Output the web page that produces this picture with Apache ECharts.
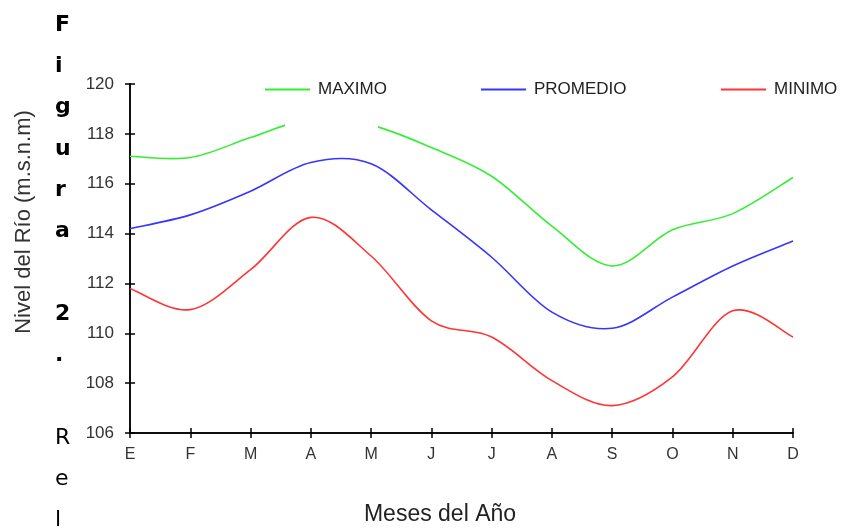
<!DOCTYPE html>
<html>
<head>
<meta charset="utf-8">
<script src="https://cdn.jsdelivr.net/npm/echarts@6/dist/echarts.min.js"></script>
<style>
html,body{margin:0;padding:0;background:#fff;}
#chart{width:845px;height:529px;}
</style>
</head>
<body>
<div id="chart"></div>
<script>
const months = ['E','F','M','A','M','J','J','A','S','O','N','D'];
const maximo = [117.1, 117.05, 117.85, 118.6, 118.35, 117.45, 116.3, 114.3, 112.7, 114.15, 114.8, 116.25];
const promedio = [114.2, 114.75, 115.7, 116.85, 116.8, 114.95, 113.05, 110.85, 110.2, 111.45, 112.7, 113.7];
const minimo = [111.8, 110.95, 112.55, 114.65, 113.1, 110.5, 109.85, 108.1, 107.1, 108.25, 110.9, 109.85];
const yTicks = {min: 106, max: 120, interval: 2};
const seriesNames = ['MAXIMO', 'PROMEDIO', 'MINIMO'];
const colors = ['#33ee33', '#3535ff', '#ff3535'];
const captionBold = ['F','i','g','u','r','a','','2','.'];
const captionNormal = ['','R','e','l'];

const chart = echarts.init(document.getElementById('chart'), null, {renderer: 'canvas'});
const FONT = '"Liberation Sans", Arial, sans-serif';
const CAP_FONT = '"DejaVu Sans", "Noto Sans", sans-serif';

const graphics = [];
// white box masking part of the top line (as in source)
graphics.push({type: 'rect', shape: {x: 285, y: 98, width: 93, height: 32}, style: {fill: '#fff'}, z: 50});
const capAll = captionBold.concat(captionNormal);
capAll.forEach((ch, i) => {
  if (!ch) return;
  const bold = i < captionBold.length;
  graphics.push({type: 'text', left: 55, top: 14 + i * 41.3, z: 60,
    style: {text: ch, font: (bold ? 'bold ' : '') + '22px ' + CAP_FONT, fill: '#000'}});
});
graphics.push({type: 'text', x: 24, y: 222, rotation: Math.PI / 2, z: 60,
  style: {text: 'Nivel del Río (m.s.n.m)', font: '22px ' + FONT, fill: '#333', textAlign: 'center', textVerticalAlign: 'middle'}});
graphics.push({type: 'text', x: 440, y: 515, z: 60,
  style: {text: 'Meses del Año', font: '23px ' + FONT, fill: '#222', textAlign: 'center', textVerticalAlign: 'middle'}});

const data = [maximo, promedio, minimo];
const legendLefts = [260, 476, 716];

// smooth curve (cardinal spline) drawn through the axis scales
function curveSeries(name, values, color) {
  return {
    name: name, type: 'custom', data: values.map((v, i) => [i, v]),
    encode: {x: 0, y: 1}, color: color, itemStyle: {color: color}, z: 3,
    renderItem: function (params, api) {
      if (params.dataIndex !== 0) return null;
      const p = values.map((v, i) => api.coord([i, v]));
      const n = p.length;
      let d = 'M' + p[0][0] + ',' + p[0][1];
      for (let i = 0; i < n - 1; i++) {
        const p0 = p[Math.max(i - 1, 0)], p1 = p[i], p2 = p[i + 1], p3 = p[Math.min(i + 2, n - 1)];
        const c1 = [p1[0] + (p2[0] - p0[0]) / 6, p1[1] + (p2[1] - p0[1]) / 6];
        const c2 = [p2[0] - (p3[0] - p1[0]) / 6, p2[1] - (p3[1] - p1[1]) / 6];
        d += ' C' + c1[0] + ',' + c1[1] + ' ' + c2[0] + ',' + c2[1] + ' ' + p2[0] + ',' + p2[1];
      }
      return {type: 'path', shape: {pathData: d}, style: {stroke: color, fill: null, lineWidth: 1.6}};
    }
  };
}

const axisLine = {lineStyle: {color: '#000', width: 1.5}};
const option = {
  animation: false,
  backgroundColor: '#fff',
  grid: {left: 130, right: 52, top: 84, bottom: 96},
  legend: seriesNames.map((n, i) => ({
    data: [n], left: legendLefts[i], top: 76, itemWidth: 45, itemHeight: 2, icon: 'rect',
    textStyle: {fontFamily: FONT, fontSize: 17, color: '#222', padding: [0, 0, 0, 3]}, selectedMode: false
  })),
  xAxis: [{
    type: 'category', data: months, boundaryGap: false,
    axisLine: axisLine,
    axisTick: {show: true, inside: false, length: 5, lineStyle: {color: '#000', width: 1.5}},
    axisLabel: {fontFamily: FONT, fontSize: 16, color: '#333', margin: 14},
    splitLine: {show: false}
  }, {
    type: 'category', data: months, boundaryGap: false, position: 'bottom',
    axisLine: axisLine,
    axisTick: {show: true, inside: true, length: 5, lineStyle: {color: '#000', width: 1.5}},
    axisLabel: {show: false}, splitLine: {show: false}
  }],
  yAxis: [{
    type: 'value', min: yTicks.min, max: yTicks.max, interval: yTicks.interval,
    axisLine: {show: true, lineStyle: {color: '#000', width: 1.5}},
    axisTick: {show: true, inside: false, length: 5, lineStyle: {color: '#000', width: 1.5}},
    axisLabel: {fontFamily: FONT, fontSize: 17, color: '#333', margin: 16},
    splitLine: {show: false}
  }, {
    type: 'value', min: yTicks.min, max: yTicks.max, interval: yTicks.interval, position: 'left',
    axisLine: {show: true, lineStyle: {color: '#000', width: 1.5}},
    axisTick: {show: true, inside: true, length: 5, lineStyle: {color: '#000', width: 1.5}},
    axisLabel: {show: false}, splitLine: {show: false}
  }],
  series: seriesNames.map((n, i) => curveSeries(n, data[i], colors[i])),
  graphic: graphics
};
chart.setOption(option);
</script>
</body>
</html>
